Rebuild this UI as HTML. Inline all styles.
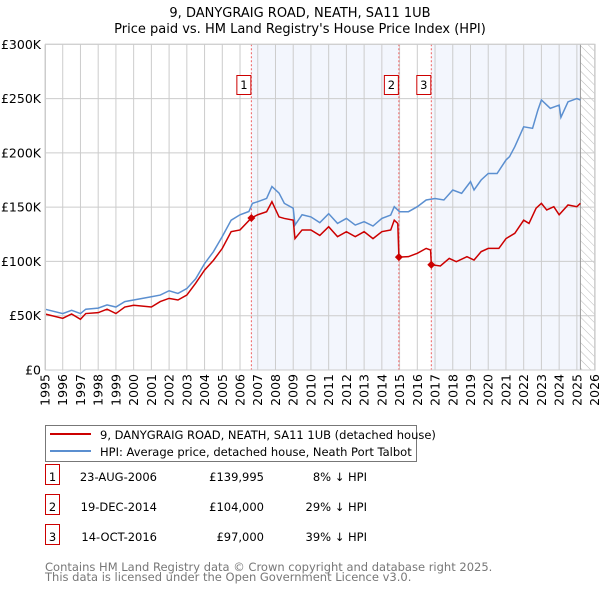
<!DOCTYPE html>
<html><head><meta charset="utf-8">
<style>
body{margin:0;background:#fff;font-family:"DejaVu Sans","Liberation Sans",sans-serif;}
svg text{font-family:"DejaVu Sans","Liberation Sans",sans-serif;}
</style></head>
<body>
<svg id="c" width="600" height="590" xmlns="http://www.w3.org/2000/svg">
<defs><pattern id="hatch" width="6" height="6" patternUnits="userSpaceOnUse" patternTransform="rotate(-45)"><line x1="0" y1="0" x2="0" y2="6" stroke="#bbb" stroke-width="1"/></pattern></defs>
<text x="300" y="17" text-anchor="middle" font-size="13">9, DANYGRAIG ROAD, NEATH, SA11 1UB</text>
<text x="300" y="33" text-anchor="middle" font-size="13">Price paid vs. HM Land Registry's House Price Index (HPI)</text>
<g id="plot"></g>
<g>
<rect x="45.5" y="425.5" width="371" height="36" fill="#fff" stroke="#777"/>
<line x1="50" y1="434" x2="91" y2="434" stroke="#cc0000" stroke-width="2"/>
<text x="100" y="439" font-size="11.5">9, DANYGRAIG ROAD, NEATH, SA11 1UB (detached house)</text>
<line x1="50" y1="451" x2="91" y2="451" stroke="#5b8fd0" stroke-width="2"/>
<text x="100" y="456" font-size="11.5">HPI: Average price, detached house, Neath Port Talbot</text>
</g>
<g id="table" font-size="11.5"></g>
<text x="45" y="571" font-size="11.5" fill="#777">Contains HM Land Registry data © Crown copyright and database right 2025.</text>
<text x="45" y="581" font-size="11.5" fill="#777">This data is licensed under the Open Government Licence v3.0.</text>
</svg>
<script>
const hpiYears=[1995,1996,1996.5,1997,1997.3,1998,1998.5,1999,1999.5,2000,2001,2001.5,2002,2002.5,2003,2003.5,2004,2004.5,2005,2005.5,2006,2006.5,2006.7,2007,2007.5,2007.8,2008.2,2008.5,2009,2009.1,2009.5,2010,2010.5,2011,2011.5,2012,2012.5,2013,2013.5,2014,2014.5,2014.7,2015,2015.5,2016,2016.5,2017,2017.5,2018,2018.5,2019,2019.2,2019.6,2020,2020.5,2021,2021.2,2021.5,2022,2022.5,2022.8,2023,2023.5,2024,2024.1,2024.5,2025,2025.2];
const hpiValues=[56,52,55,52,56,57,60,58,63,64.5,67.5,69,73,70.5,75,84,98,109,123,138,143,146,153.5,155,158,169,163,153.5,149,133.5,143,141,135.7,144,135,139.6,133.5,136.6,132.6,139.6,142.7,150.4,145.8,145.8,150.4,156.6,158,156.6,165.8,162.7,173.5,165.8,175,181,181,193.4,196.5,205.7,224,222.6,239.4,248.7,241,244,232.7,247,250,248.7];
const priceYears=[1995,1996,1996.5,1997,1997.3,1998,1998.5,1999,1999.5,2000,2001,2001.5,2002,2002.5,2003,2003.5,2004,2004.5,2005,2005.5,2006,2006.64,2007,2007.5,2007.8,2008.2,2008.5,2009,2009.1,2009.5,2010,2010.5,2011,2011.5,2012,2012.5,2013,2013.5,2014,2014.5,2014.7,2014.9,2014.96,2015.5,2016,2016.5,2016.75,2016.79,2017.3,2017.8,2018.2,2018.8,2019.2,2019.6,2020,2020.6,2021,2021.5,2022,2022.3,2022.7,2023,2023.3,2023.7,2024,2024.5,2025,2025.2];
const priceValues=[51.6,47.6,51.6,46.7,52,52.8,56,52,58,59.6,58,63,66,64.5,69,80,92,101,112,127.4,129,139.995,143,145.8,155,141,139.6,138,121,129,129,124,132,122.8,127.4,122.8,127.4,121,127.4,129,138,135,104,104.4,107.5,112,110.5,97,95.8,102.8,99.8,104.4,101.3,109,112,112,121,125.9,138,135,149,153.5,147.4,150.4,143,152,150.4,153.5];
const saleLabels=["1","2","3"];
const saleYears=[2006.64,2014.96,2016.79];
const salePrices=[139995,104000,97000];
const saleDates=["23-AUG-2006","19-DEC-2014","14-OCT-2016"];
const salePriceText=["£139,995","£104,000","£97,000"];
const saleDiffText=["8% ↓ HPI","29% ↓ HPI","39% ↓ HPI"];
const yTicks=[0,50000,100000,150000,200000,250000,300000];
const yTickLabels=["£0","£50K","£100K","£150K","£200K","£250K","£300K"];
const xTicks=[1995,1996,1997,1998,1999,2000,2001,2002,2003,2004,2005,2006,2007,2008,2009,2010,2011,2012,2013,2014,2015,2016,2017,2018,2019,2020,2021,2022,2023,2024,2025,2026];

const NS="http://www.w3.org/2000/svg";
const X0=45,X1=594.6,Y0=370,Y1=44.3;
const xs=y=>X0+(y-1995)/(2026-1995)*(X1-X0);
const ys=v=>Y0-v/300000*(Y0-Y1);
const g=document.getElementById('plot');
function mk(tag,attrs,parent){const e=document.createElementNS(NS,tag);for(const k in attrs)e.setAttribute(k,attrs[k]);(parent||g).appendChild(e);return e;}
// shaded ownership periods
let r=mk('rect',{x:xs(saleYears[0]),y:Y1,width:xs(saleYears[1])-xs(saleYears[0]),height:Y0-Y1,fill:'#eef2fc',opacity:0.7});


r=mk('rect',{x:xs(saleYears[2]),y:Y1,width:xs(2025.2)-xs(saleYears[2]),height:Y0-Y1,fill:'#eef2fc',opacity:0.7});


r=mk('rect',{x:xs(2025.2),y:Y1,width:X1-xs(2025.2),height:Y0-Y1,fill:'url(#hatch)'});


// grid
yTicks.forEach((v,i)=>{
  const l=mk('line',{x1:X0,x2:X1,y1:ys(v),y2:ys(v),stroke:'#ccc','stroke-width':1});
  
  
  const t=mk('text',{x:X0-4,y:ys(v)+4.5,'text-anchor':'end','font-size':12.5});
  t.textContent=yTickLabels[i];
  
  
});
xTicks.forEach(yr=>{
  const l=mk('line',{x1:xs(yr),x2:xs(yr),y1:Y1,y2:Y0,stroke:'#ccc','stroke-width':1});
  
  
  const t=mk('text',{x:0,y:0,'text-anchor':'end','font-size':12.5,transform:`translate(${xs(yr)+4.5},${Y0+4}) rotate(-90)`});
  t.textContent=yr;
  
  
});
let ln=mk('line',{x1:xs(2025.2),x2:xs(2025.2),y1:Y1,y2:Y0,stroke:'#999','stroke-width':1});


// sale lines
saleYears.forEach((yr,i)=>{
  const l=mk('line',{x1:xs(yr),x2:xs(yr),y1:Y1,y2:Y0,stroke:'#f06060','stroke-width':1,'stroke-dasharray':'2,2'});
  
  
});
// series
const hp=mk('polyline',{points:hpiYears.map((y,i)=>xs(y)+','+ys(hpiValues[i]*1000)).join(' '),fill:'none',stroke:'#5b8fd0','stroke-width':1.5});


const pp=mk('polyline',{points:priceYears.map((y,i)=>xs(y)+','+ys(priceValues[i]*1000)).join(' '),fill:'none',stroke:'#cc0000','stroke-width':1.5});


saleYears.forEach((yr,i)=>{
  const cx=xs(yr),cy=ys(salePrices[i]);
  const d=mk('path',{d:`M${cx-4},${cy}L${cx},${cy-4}L${cx+4},${cy}L${cx},${cy+4}Z`,fill:'#cc0000'});
  
  
  const b=mk('rect',{x:cx-14.5,y:75.5,width:14,height:19,fill:'#fff',stroke:'#cc0000'});
  
  
  const t=mk('text',{x:cx-7.5,y:89,'text-anchor':'middle','font-size':11.5});
  t.textContent=saleLabels[i];
  
  
});
mk('rect',{x:X0+0.5,y:Y1,width:X1-X0,height:Y0-Y1,fill:'none',stroke:'#ccc'});
// table
const tb=document.getElementById('table');
saleLabels.forEach((s,i)=>{
  const y=483+i*30;
  const b=mk('rect',{x:45.5,y:y-18.5,width:14,height:20,fill:'#fff',stroke:'#cc0000'},tb);
  
  
  const cells=[[52.5,'middle',s],[157,'end',saleDates[i]],[264,'end',salePriceText[i]],[367,'end',saleDiffText[i]]];
  cells.forEach(c=>{
    const t=mk('text',{x:c[0],y:y-2,'text-anchor':c[1]},tb);
    t.textContent=c[2];
    
    
  });
});
</script>
</body></html>
